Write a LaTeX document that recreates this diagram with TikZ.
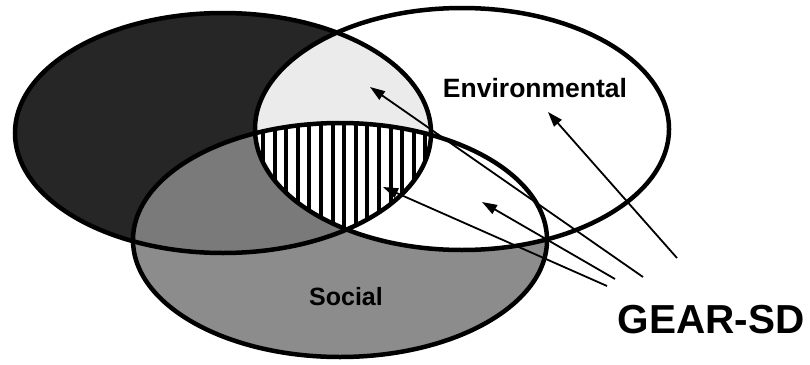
\documentclass[tikz,border=0pt]{standalone}
\usepackage{fontspec}
\setmainfont{Liberation Sans}
\usetikzlibrary{arrows.meta}
\begin{document}
\begin{tikzpicture}[x=1pt,y=-1pt,
  rim/.style={line width=4.5pt},
  pointer/.style={line width=1.8pt,-{Triangle[length=15pt,width=10pt]}},
  setlabel/.style={inner sep=0pt,font=\bfseries\fontsize{26.5}{30}\selectfont}]
\useasboundingbox (0,0) rectangle (810,364);
% the three circles of sustainable development
\def\pathEcon{(223,133) ellipse [x radius=208pt, y radius=120pt]}
\def\pathEnv{(462,129) ellipse [x radius=207pt, y radius=121pt]}
\def\pathSoc{(340,240) ellipse [x radius=207pt, y radius=117pt]}
% fills
\fill[black!85] \pathEcon;
\fill[black!45] \pathSoc;
\begin{scope}
  \clip \pathEcon;
  \fill[black!52] \pathSoc;
\end{scope}
\fill[white] \pathEnv;
\begin{scope}
  \clip \pathEnv;
  \fill[black!8] \pathEcon;
\end{scope}
% common core: vertical stripes
\begin{scope}
  \clip \pathEcon;
  \clip \pathEnv;
  \clip \pathSoc;
  \fill[white] (240,100) rectangle (440,240);
  \foreach \i in {-1,...,16}
    \fill[black] (263+\i*11.6-2,100) rectangle ++(4,140);
\end{scope}
% outlines
\draw[rim] \pathEcon;
\draw[rim] \pathEnv;
\draw[rim] \pathSoc;
% labels
\node[setlabel] (envLabel) at (535,88) {Environmental};
\node[setlabel,font=\bfseries\fontsize{25}{30}\selectfont] (socLabel) at (346,297) {Social};
\node[setlabel,font=\bfseries\fontsize{40.5}{46}\selectfont] (gearLabel) at (711,320) {GEAR-SD};
% pointers
\coordinate (srcEnv) at (677,258);
\coordinate (tipEnv) at (548,112);
\coordinate (srcEcoEnv) at (643,277);
\coordinate (tipEcoEnv) at (370,87);
\coordinate (srcEnvSoc) at (615,279);
\coordinate (tipEnvSoc) at (482,202);
\coordinate (srcCore) at (607,286);
\coordinate (tipCore) at (383,187);
\draw[pointer] (srcEnv) -- (tipEnv);
\draw[pointer] (srcEcoEnv) -- (tipEcoEnv);
\draw[pointer] (srcEnvSoc) -- (tipEnvSoc);
\draw[pointer] (srcCore) -- (tipCore);
\end{tikzpicture}
\end{document}
